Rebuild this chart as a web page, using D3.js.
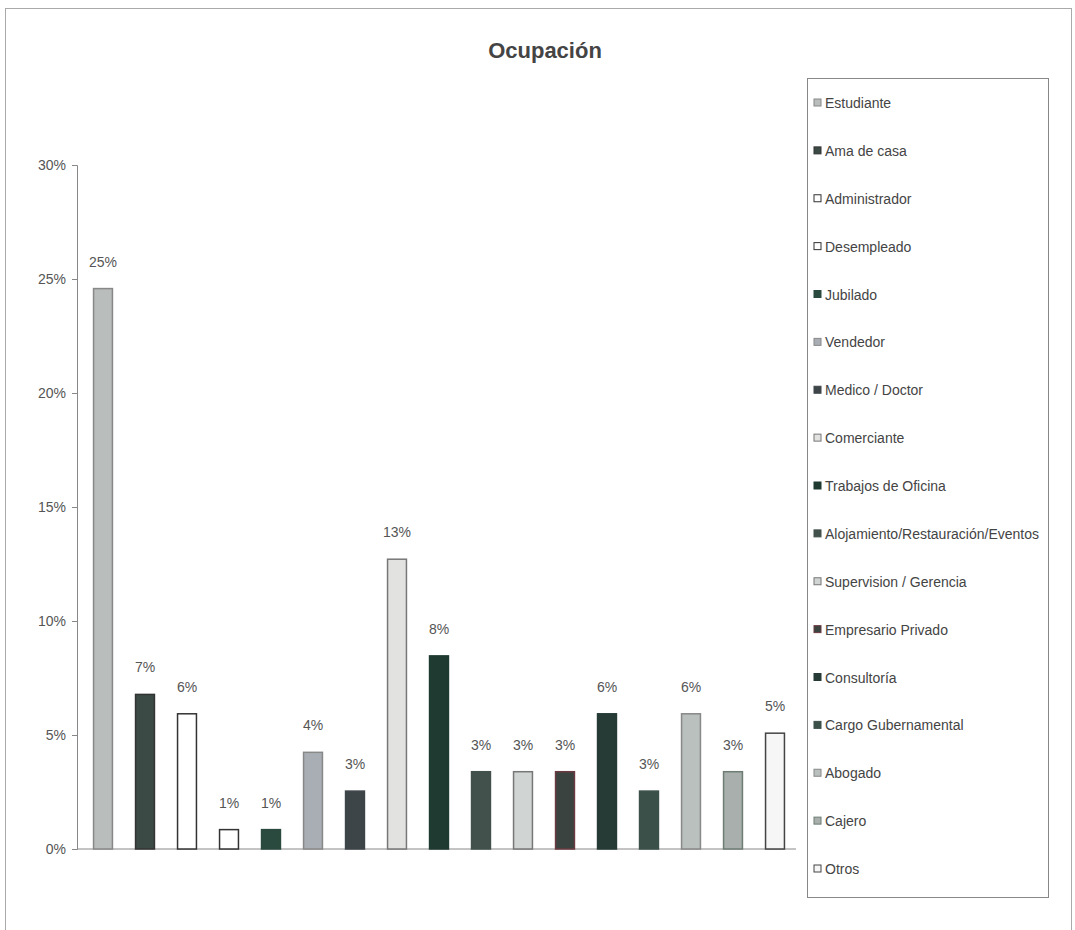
<!DOCTYPE html>
<html lang="es">
  <head>
    <meta charset="utf-8">
    <title>Ocupación</title>
    <style>
      body { margin: 0; background: #fff; }
      svg { display: block; }
    </style>
  </head>
  <body>
    <div id="chart"></div>
  </body>
  <script src="https://cdnjs.cloudflare.com/ajax/libs/d3/7.8.5/d3.min.js"></script>
  <script type="text/javascript">

    const categories = [
      'Estudiante', 'Ama de casa', 'Administrador', 'Desempleado', 'Jubilado',
      'Vendedor', 'Medico / Doctor', 'Comerciante', 'Trabajos de Oficina',
      'Alojamiento/Restauración/Eventos', 'Supervision / Gerencia', 'Empresario Privado',
      'Consultoría', 'Cargo Gubernamental', 'Abogado', 'Cajero', 'Otros'
    ]
    // share of respondents (%)
    const values = [24.58, 6.78, 5.93, 0.85, 0.85, 4.24, 2.54, 12.71, 8.47, 3.39, 3.39, 3.39, 5.93, 2.54, 5.93, 3.39, 5.08]
    const yTicks = [0, 5, 10, 15, 20, 25, 30]
    const fills = ['#b9bdbc', '#3b4a45', '#ffffff', '#ffffff', '#2b4a3f', '#a9aeb4', '#3e4549',
      '#e2e3e1', '#1f3a31', '#42514b', '#d0d5d3', '#3b4341', '#263b36', '#3b5049', '#b9c0bd',
      '#a9afac', '#f6f6f6']
    const strokes = ['#888', '#333', '#333', '#333', '#2b4a3f', '#888', '#3e4549', '#777',
      '#1f3a31', '#42514b', '#777', '#6a3a40', '#263b36', '#3b5049', '#888', '#6d7d74', '#444']

    const width = 1075, height = 930
    const font = '"Liberation Sans Narrow", "Arial Narrow", "Liberation Sans", Arial, sans-serif'

    const svg = d3.select('#chart').append('svg')
      .attr('width', width)
      .attr('height', height)
      .style('font-family', font)

    // outer frame
    svg.append('rect')
      .attr('x', 5.5).attr('y', 8.5)
      .attr('width', 1066).attr('height', 930)
      .attr('fill', 'none').attr('stroke', '#aaa')

    svg.append('text')
      .attr('x', 545).attr('y', 58)
      .attr('text-anchor', 'middle')
      .style('font-size', '22px')
      .style('font-weight', 'bold')
      .attr('fill', '#444')
      .text('Ocupación')

    const x = d3.scaleBand()
      .domain(categories)
      .range([82, 796])
      .paddingInner(0.55)
      .paddingOuter(0.275)

    const y = d3.scaleLinear()
      .domain([0, 30])
      .range([849, 165])

    const yAxis = svg.append('g')
      .attr('transform', 'translate(77,0)')
      .call(d3.axisLeft(y).tickValues(yTicks).tickSize(5).tickPadding(6).tickFormat(d => d + '%'))
    yAxis.selectAll('path, line').attr('stroke', '#888')
    yAxis.selectAll('text').attr('fill', '#555').style('font-size', '14px').style('font-family', font)

    svg.append('line')
      .attr('x1', 77).attr('x2', 796)
      .attr('y1', y(0)).attr('y2', y(0))
      .attr('stroke', '#888')

    const data = categories.map((c, i) => ({ name: c, value: values[i], i }))

    svg.selectAll('.bar')
      .data(data)
      .enter()
      .append('rect')
      .attr('class', 'bar')
      .attr('x', d => x(d.name))
      .attr('y', d => y(d.value))
      .attr('width', x.bandwidth())
      .attr('height', d => y(0) - y(d.value))
      .attr('fill', d => fills[d.i])
      .attr('stroke', d => strokes[d.i])
      .attr('stroke-width', 1.5)

    svg.selectAll('.bar-label')
      .data(data)
      .enter()
      .append('text')
      .attr('class', 'bar-label')
      .attr('x', d => x(d.name) + x.bandwidth() / 2)
      .attr('y', d => y(d.value) - 22)
      .attr('text-anchor', 'middle')
      .attr('fill', '#555')
      .style('font-size', '14px')
      .text(d => Math.round(d.value) + '%')

    // legend
    const legend = svg.append('g')
    legend.append('rect')
      .attr('x', 807.5).attr('y', 78.5)
      .attr('width', 241).attr('height', 819)
      .attr('fill', 'none').attr('stroke', '#888')

    const ly = d3.scalePoint().domain(categories).range([103, 869])

    legend.selectAll('.legend-key')
      .data(data)
      .enter()
      .append('rect')
      .attr('class', 'legend-key')
      .attr('x', 814).attr('y', d => ly(d.name) - 4)
      .attr('width', 7).attr('height', 7)
      .attr('fill', d => fills[d.i])
      .attr('stroke', d => strokes[d.i])

    legend.selectAll('.legend-text')
      .data(data)
      .enter()
      .append('text')
      .attr('class', 'legend-text')
      .attr('x', 825).attr('y', d => ly(d.name) + 5)
      .attr('fill', '#444')
      .style('font-size', '14px')
      .text(d => d.name)
  </script>
</html>
